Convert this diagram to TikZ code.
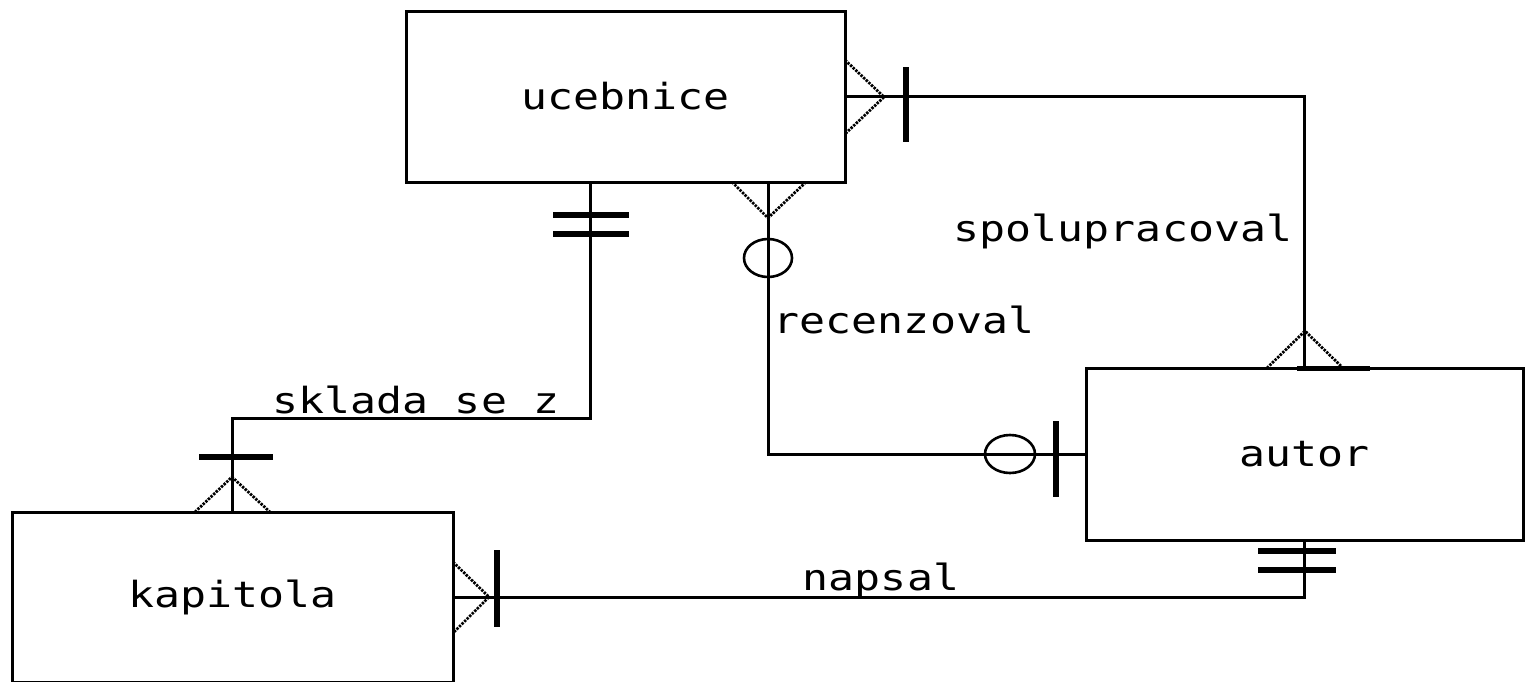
\documentclass[tikz,border=0pt]{standalone}
\usepackage{fontspec}
\newfontfamily\pixfont{DejaVu Sans Mono}
\begin{document}
\begin{tikzpicture}[x=0.5pt,y=-0.5pt,
  entity/.style={draw,line width=1.5pt,inner sep=0pt,font=\pixfont\fontsize{18}{20}\selectfont},
  conn/.style={line width=1.5pt},
  prong/.style={line width=1.4pt,dash pattern=on 1.2pt off 0.6pt},
  onebar/.style={line width=3pt},
  zerocirc/.style={line width=1.3pt},
  lbl/.style={inner sep=0pt,font=\pixfont\fontsize{18}{20}\selectfont}]
\useasboundingbox (0,0) rectangle (1533,681);
% entities
\node[entity,minimum width=219.5pt,minimum height=85.5pt] (u) at (625.5,96.5) {\scalebox{1.2}[1]{ucebnice}};
\node[entity,minimum width=218.5pt,minimum height=86pt] (a) at (1304.5,454) {\scalebox{1.2}[1]{autor}};
\node[entity,minimum width=220.5pt,minimum height=85pt] (k) at (232.5,597) {\scalebox{1.2}[1]{kapitola}};
% helper coordinates on edges
\coordinate (ur) at (768,182);
\coordinate (us) at (590,182);
\coordinate (sk) at (232.5,418);
% connectors
\draw[conn] (u.east) -| (a.north);
\draw[conn] (ur) |- (a.west);
\draw[conn] (us) |- (sk) -- (k.north);
\draw[conn] (k.east) -| (a.south);
% labels
\node[lbl] (l1) at (1123,231) {\scalebox{1.2}[1]{spolupracoval}};
\node[lbl] (l2) at (904,320) {\scalebox{1.2}[1]{recenzoval}};
\node[lbl] (l3) at (416,400) {\scalebox{1.2}[1]{sklada se z}};
\node[lbl] (l4) at (881,580) {\scalebox{1.2}[1]{napsal}};
% ucebnice right end: many + one
\draw[prong] (845,60) -- (884,97) -- (845,134);
\draw[onebar] (906,67) -- (906,142);
% autor top end: many
\draw[prong] (1267,368) -- (1305,331) -- (1343,368);
\draw[line width=2.5pt] (1297,368) -- (1370,368);
% ucebnice bottom (recenzoval): many + zero
\draw[prong] (732,182) -- (768,218) -- (806,182);
\draw[zerocirc] (768,258) ellipse [x radius=12pt,y radius=9.5pt];
% autor left end: zero + one
\draw[zerocirc] (1010,454) ellipse [x radius=12.5pt,y radius=9.5pt];
\draw[onebar] (1056,421) -- (1056,497);
% ucebnice bottom (sklada): one and only one
\draw[onebar] (553,215) -- (629,215);
\draw[onebar] (553,234) -- (629,234);
% kapitola top: many + one
\draw[prong] (195,512) -- (232,477) -- (270,512);
\draw[onebar] (199,457) -- (273,457);
% kapitola right: many + one
\draw[prong] (453,562) -- (489,597) -- (453,633);
\draw[onebar] (497,550) -- (497,627);
% autor bottom: one and only one
\draw[onebar] (1258,551) -- (1336,551);
\draw[onebar] (1258,570) -- (1336,570);
\end{tikzpicture}
\end{document}
